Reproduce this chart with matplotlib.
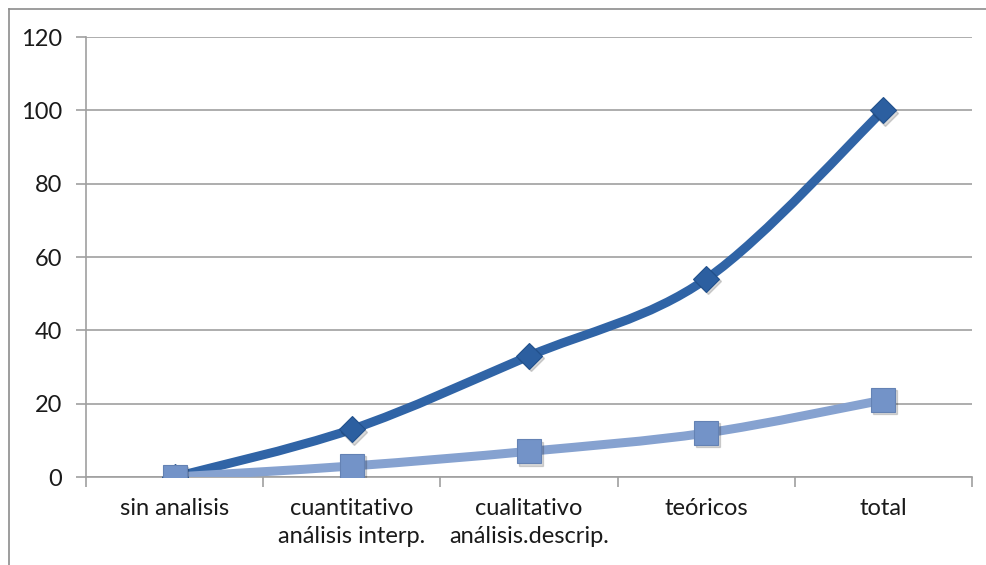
"""
Excel-style smoothed line chart: two series across analysis categories.
"""
import numpy as np
import matplotlib.pyplot as plt
from matplotlib.path import Path
from matplotlib.patches import PathPatch
from matplotlib.lines import Line2D

CATEGORIES = ['sin analisis', 'cuantitativo\nanálisis interp.', 'cualitativo\nanálisis.descrip.',
              'teóricos', 'total']
SERIES_1 = [0, 13, 33, 54, 100]
SERIES_2 = [0, 3, 7, 12, 21]
Y_TICKS = [0, 20, 40, 60, 80, 100, 120]

DARK = '#3064a6'
LIGHT = '#86a2d0'
GRID = '#a0a0a0'

plt.rcParams['font.family'] = ['Lato', 'DejaVu Sans']


def smooth_path(xs, ys):
    """Bezier path through the points, like Excel's smoothed line."""
    pts = np.column_stack([xs, ys]).astype(float)
    padded = np.vstack([pts[0], pts, pts[-1]])
    verts = [pts[0]]
    codes = [Path.MOVETO]
    for i in range(len(pts) - 1):
        p_prev, p0, p1, p_next = padded[i], padded[i + 1], padded[i + 2], padded[i + 3]
        c1 = p0 + (p1 - p_prev) / 6
        c2 = p1 - (p_next - p0) / 6
        verts += [c1, c2, p1]
        codes += [Path.CURVE4] * 3
    return Path(verts, codes)


fig = plt.figure(figsize=(9.87, 5.65), dpi=100)
ax = fig.add_axes([86 / 987, 1 - 477 / 565, (972 - 86) / 987, (477 - 37) / 565])

x = np.arange(len(CATEGORIES))

for vals, col, mcol, mk, ms, edge in [(SERIES_1, DARK, '#2c5fa0', 'D', 13, '#21508c'),
                                      (SERIES_2, LIGHT, '#7393c8', 's', 17, '#6482b4')]:
    ax.add_patch(PathPatch(smooth_path(x, vals), facecolor='none', edgecolor=col,
                           lw=6.5, capstyle='round', joinstyle='round', zorder=3))
    # soft shadow under the markers
    ax.plot(x + 0.01, np.array(vals) - 0.6, linestyle='none', marker=mk, ms=ms,
            color='#000000', alpha=0.15, zorder=3.5)
    ax.plot(x, vals, linestyle='none', marker=mk, ms=ms, color=mcol,
            markeredgecolor=edge, markeredgewidth=0.8, zorder=4)

ax.set_xlim(-0.5, len(CATEGORIES) - 0.5)
ax.set_ylim(0, 120)
ax.set_yticks(Y_TICKS)
ax.set_yticklabels([str(v) for v in Y_TICKS], fontsize=17, color='#1a1a1a')
ax.yaxis.grid(True, color=GRID, lw=1.2)
ax.set_axisbelow(True)

ax.set_xticks(np.arange(len(CATEGORIES) + 1) - 0.5)
ax.set_xticklabels([])
ax.set_xticks(x, minor=True)
ax.set_xticklabels(CATEGORIES, minor=True, fontsize=17, color='#1a1a1a', linespacing=1.4)
ax.tick_params(axis='x', which='minor', length=0, pad=15)
ax.tick_params(axis='x', which='major', length=7, color=GRID, width=1.2)
ax.tick_params(axis='y', length=7, color=GRID, width=1.2, pad=10)

for side in ['top', 'right']:
    ax.spines[side].set_visible(False)
for side in ['left', 'bottom']:
    ax.spines[side].set_color(GRID)
    ax.spines[side].set_linewidth(1.2)

# outer chart border (left and top edges visible)
fig.add_artist(Line2D([9 / 987, 9 / 987], [1 - 9 / 565, 0], color='#8c8c8c', lw=1.2))
fig.add_artist(Line2D([9 / 987, 1], [1 - 9 / 565, 1 - 9 / 565], color='#8c8c8c', lw=1.2))

fig.savefig('out.png', dpi=100)
